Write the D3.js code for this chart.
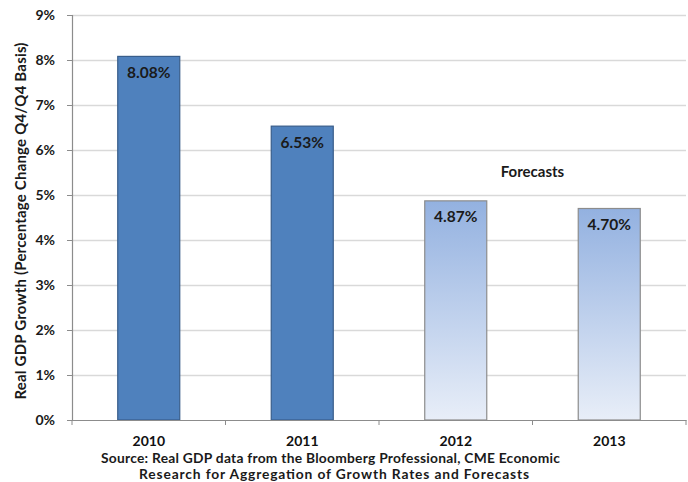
<!DOCTYPE html>
<html><head><meta charset="utf-8">
<script src="https://cdn.jsdelivr.net/npm/d3@7"></script>
<style>body{margin:0;background:#fff}svg{display:block}text{font-family:Lato,"Open Sans",sans-serif;font-weight:bold}</style>
</head><body><svg width="688" height="482"></svg>
<script>
const years = ["2010","2011","2012","2013"];
const growth = [8.08, 6.53, 4.87, 4.70];
const isForecast = [false, false, true, true];
const yTicks = [0,1,2,3,4,5,6,7,8,9];
const sourceLines = ["Source: Real GDP data from the Bloomberg Professional, CME Economic","Research for Aggregation of Growth Rates and  Forecasts"];

const svg = d3.select("svg");
const mLeft = 72, mRight = 686, mTop = 15, mBottom = 420;
const x = d3.scaleBand().domain(years).range([mLeft, mRight]).paddingInner(0.596).paddingOuter(0.298);
const y = d3.scaleLinear().domain([0, 9]).range([mBottom, mTop]);

const defs = svg.append("defs");
const g = defs.append("linearGradient").attr("id","fc").attr("x1",0).attr("y1",0).attr("x2",0).attr("y2",1);
g.append("stop").attr("offset","0%").attr("stop-color","#93B1E0");
g.append("stop").attr("offset","100%").attr("stop-color","#E8EEF8");

// gridlines
svg.append("g").selectAll("line").data(yTicks.filter(d=>d>0)).join("line")
  .attr("x1",mLeft).attr("x2",mRight).attr("y1",d=>y(d)+0.5).attr("y2",d=>y(d)+0.5)
  .attr("stroke","#D9D9D9").attr("stroke-width",1.5);

// y axis
const ya = svg.append("g").attr("transform",`translate(${mLeft},0)`)
  .call(d3.axisLeft(y).tickValues(yTicks).tickFormat(d=>d+"%").tickSize(5).tickPadding(12));
ya.select(".domain").attr("stroke","#8C8C8C").attr("stroke-width",1.2);
ya.selectAll(".tick line").attr("stroke","#8C8C8C");
ya.selectAll("text").attr("font-size",14).attr("fill","#1a1a1a").style("font-family","Lato,sans-serif").style("font-weight","bold");

// bars
svg.append("g").selectAll("rect").data(years).join("rect")
  .attr("x",d=>x(d)).attr("width",x.bandwidth())
  .attr("y",(d,i)=>y(growth[i])).attr("height",(d,i)=>y(0)-y(growth[i]))
  .attr("fill",(d,i)=>isForecast[i]?"url(#fc)":"#4F81BD")
  .attr("stroke",(d,i)=>isForecast[i]?"#8C8C8C":"#385D8A").attr("stroke-width",1.2);

// bar labels
svg.append("g").selectAll("text").data(years).join("text")
  .attr("x",d=>x(d)+x.bandwidth()/2).attr("y",(d,i)=>y(growth[i])+21.5)
  .attr("text-anchor","middle").attr("font-size",15.5).attr("fill","#1a1a1a")
  .text((d,i)=>growth[i].toFixed(2)+"%");

// x axis
const xa = svg.append("g").attr("transform",`translate(0,${mBottom})`)
  .call(d3.axisBottom(x).tickSize(0).tickPadding(0));
xa.select(".domain").attr("stroke","#8C8C8C").attr("stroke-width",1.2);
xa.selectAll("text").attr("dy",null).attr("y",26).attr("font-size",14).attr("fill","#111").style("font-family","Lato,sans-serif").style("font-weight","bold");
// category boundary ticks
svg.append("g").selectAll("line").data(d3.range(years.length+1)).join("line")
  .attr("x1",i=>mLeft+i*x.step()).attr("x2",i=>mLeft+i*x.step())
  .attr("y1",mBottom).attr("y2",mBottom+5).attr("stroke","#8C8C8C");

// forecasts label
svg.append("text").attr("x",(x("2012")+x("2013")+x.bandwidth())/2).attr("y",177)
  .attr("text-anchor","middle").attr("font-size",15).attr("fill","#1a1a1a").text("Forecasts");

// y title
svg.append("text").attr("transform","translate(26,221) rotate(-90)").attr("text-anchor","middle")
  .attr("font-size",15).attr("textLength",357).attr("lengthAdjust","spacing")
  .attr("fill","#1a1a1a").text("Real GDP Growth (Percentage Change Q4/Q4 Basis)");

// source
svg.append("text").attr("x",101).attr("y",463).attr("font-size",13.8).attr("textLength",459).attr("lengthAdjust","spacing").attr("fill","#1a1a1a").text(sourceLines[0]);
svg.append("text").attr("x",139).attr("y",479).attr("font-size",13.8).attr("textLength",390).attr("lengthAdjust","spacing").attr("fill","#1a1a1a").text(sourceLines[1]);
</script></body></html>
